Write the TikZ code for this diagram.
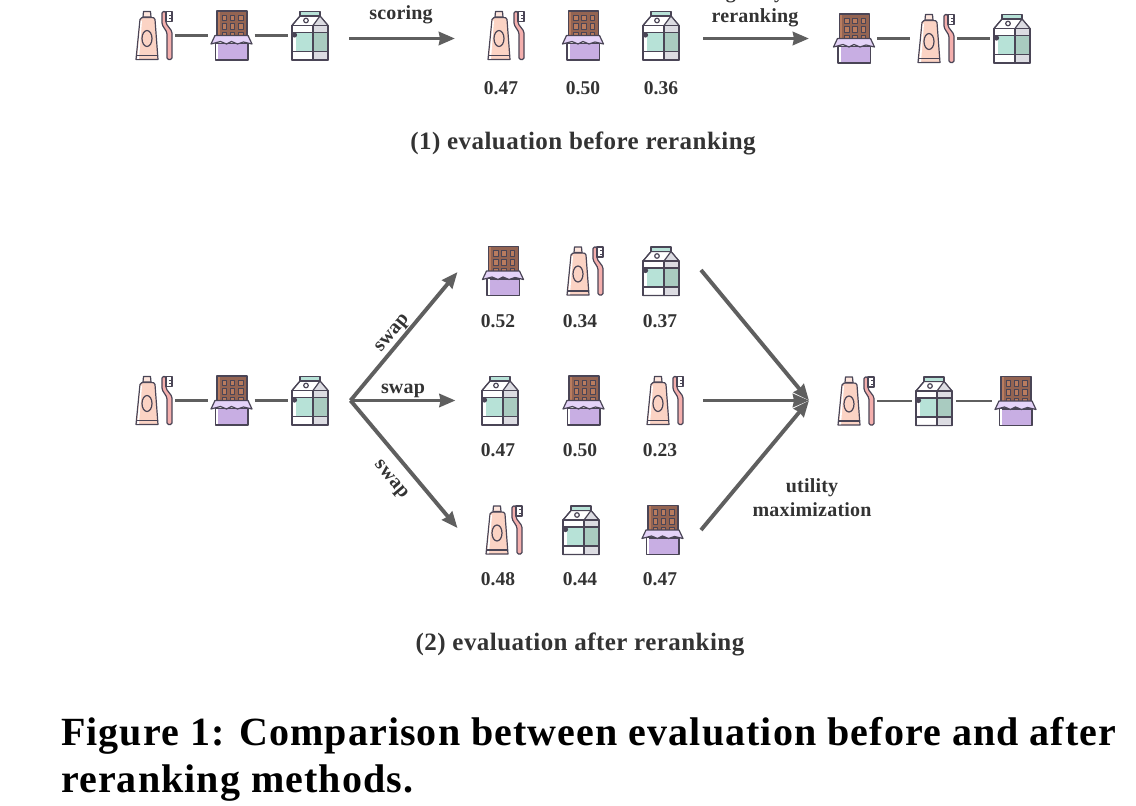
\documentclass[tikz,border=0pt]{standalone}
\usepackage{fontspec}
\setmainfont{Liberation Serif}
\newfontfamily\lblfont[LetterSpace=1]{Liberation Serif}
\newfontfamily\titlefont[LetterSpace=1.8]{Liberation Serif}
\newfontfamily\captfont[LetterSpace=2.7]{Liberation Serif}
\usetikzlibrary{arrows.meta,positioning}

\definecolor{inkc}{HTML}{4A4556}
\definecolor{arrowc}{HTML}{5F5F5F}
\definecolor{textc}{HTML}{333333}
\definecolor{tubec}{HTML}{FBD3C4}
\definecolor{brushc}{HTML}{F4AFAD}
\definecolor{chococ}{HTML}{946452}
\definecolor{squarec}{HTML}{B97C5F}
\definecolor{wrapc}{HTML}{C8AEE3}
\definecolor{flapc}{HTML}{E4D3F8}
\definecolor{milkc}{HTML}{B7E2D7}
\definecolor{shadec}{HTML}{A9CBC0}
\definecolor{greyc}{HTML}{DCDCE2}

\tikzset{
    ink/.style={draw=inkc, line width=1.2pt, line join=round},
    tube/.pic={
        \begin{scope}[x=1pt, y=1pt]
        \path [ink, fill=tubec] (-18,-24) -- (-14,16) .. controls (-14,18) and (-11,18) .. (-10,18) -- (-3,18) .. controls (-1,18) and (1,18) .. (1,16) -- (4,-24) -- cycle;
        \fill [white] (-16.8,-23.4) -- (-13.3,15) -- (-12,15) -- (-15,-23.4) -- cycle;
        \path [ink, fill=tubec!60] (-11,18.5) -- (-10.5,24) -- (-3.5,24) -- (-3,18.5) -- cycle;
        \draw [ink] (-18,-20) -- (4,-20);
        \path [ink, fill=tubec] (-7,-3) ellipse [x radius=5, y radius=8];
        \path [ink, fill=brushc, rounded corners=1.5pt] (13,-24) -- (13,3) -- (8,11) -- (8,24) -- (12,24) -- (12,12) -- (18,4) -- (18,-24) -- cycle;
        \path [ink, fill=white] (12,24) -- (18,24) -- (18,14) -- (12,14) -- cycle;
        \draw [ink, line width=0.9pt] (15,20.5) -- (18,20.5) (15,17) -- (18,17);
        \end{scope}
    },
    choco/.pic={
        \begin{scope}[x=1pt, y=1pt]
        \path [ink, fill=chococ] (-14.5,-2) -- (-14.5,24.5) -- (15.5,24.5) -- (15.5,-2) -- cycle;
        \fill [squarec] (-13.8,-2) rectangle (-12,23.8);
        \path [ink, line width=1pt, fill=squarec] (-9.5,15) rectangle (-5,20.5) (-1.5,15) rectangle (3,20.5) (7,15) rectangle (11.5,20.5);
        \path [ink, line width=1pt, fill=squarec] (-9.5,6) rectangle (-5,12) (-1.5,6) rectangle (3,12) (7,6) rectangle (11.5,12);
        \path [ink, line width=1pt, fill=squarec] (-9.5,-2) rectangle (-5,3) (-1.5,-2) rectangle (3,3) (7,-2) rectangle (11.5,3);
        \path [ink, fill=wrapc] (-16,-8) -- (-16,-24.5) -- (16.5,-24.5) -- (16.5,-8) -- cycle;
        \fill [white] (-15.3,-8) rectangle (-13.5,-23.8);
        \path [ink, fill=flapc] (-16.5,0) -- (16.5,0) -- (20.5,-8.5) -- (12,-6.5) -- (6,-8.5) -- (0,-6) -- (-5,-8.5) -- (-11,-6) -- (-20.5,-8.5) -- cycle;
        \end{scope}
    },
    milk/.pic={
        \begin{scope}[x=1pt, y=1pt]
        \path [ink, fill=white] (-18,10) -- (-10,19.5) -- (10,19.5) -- (18,10) -- (18,-24.5) -- (-18,-24.5) -- cycle;
        \fill [greyc] (3,10) -- (10,19.5) -- (18,10) -- (18,-24) -- (3,-24) -- cycle;
        \fill [milkc] (-14,3) rectangle (3,-16);
        \fill [shadec] (3,3) rectangle (18,-16);
        \path [ink, fill=milkc] (-10,19.5) -- (-10,24) -- (10,24) -- (10,19.5) -- cycle;
        \draw [ink] (-18,-24.5) rectangle (18,10);
        \draw [ink] (3,10) -- (10,19.5) (-18,10) -- (-10,19.5) (10,19.5) -- (18,10);
        \draw [ink] (3,10) -- (3,-24.5);
        \draw [ink] (-18,3) -- (18,3) (-18,-16) -- (18,-16);
        \path [ink, fill=white] (-4,15) circle (2.3pt);
        \fill [inkc] (-15.5,0.5) circle (2.6pt);
        \end{scope}
    },
}
\newcommand{\placeicon}[4]{\node [#1box] (#2) at (#3,#4) {}; \pic at (#2) {#1};}

\begin{document}
\begin{tikzpicture}[x=1pt, y=-1pt]
    \tikzstyle{tubebox} = [inner sep=0pt, minimum width=42pt, minimum height=48pt]
    \tikzstyle{chocobox} = [inner sep=0pt, minimum width=46pt, minimum height=48pt]
    \tikzstyle{milkbox} = [inner sep=0pt, minimum width=44pt, minimum height=48pt]
    \tikzstyle{link} = [draw=arrowc, line width=2.7pt]
    \tikzstyle{arr} = [draw=arrowc, line width=3.9pt, -{Stealth[length=16pt, width=13pt, inset=1pt]}]
    \tikzstyle{score} = [font=\fontsize{19.5}{22}\selectfont\bfseries, text=textc, inner sep=0pt]
    \tikzstyle{lbl} = [font=\lblfont\fontsize{20}{24}\selectfont\bfseries, text=textc, align=center, inner sep=0pt]
    \tikzstyle{title} = [font=\titlefont\fontsize{25}{28}\selectfont\bfseries, text=textc, inner sep=0pt]
    \tikzstyle{capt} = [font=\captfont\fontsize{40}{47}\selectfont\bfseries, text=black, inner sep=0pt, anchor=base west]

    \useasboundingbox (0,0) rectangle (1136,806);
    \clip (0,0) rectangle (1136,806);

    \placeicon{tube}{t1}{154}{35.5}
    \placeicon{choco}{c1}{231.5}{35.5}
    \placeicon{milk}{m1}{310}{35.5}
    \draw [link] (t1) -- (c1);
    \draw [link] (c1) -- (m1);
    \placeicon{tube}{t2}{506}{35.5}
    \placeicon{choco}{c2}{583}{35.5}
    \placeicon{milk}{m2}{661}{35.5}
    \placeicon{choco}{c3}{854}{38.5}
    \placeicon{tube}{t3}{936}{38.5}
    \placeicon{milk}{m3}{1012}{38.5}
    \draw [link, shorten >=5pt] (c3) -- (t3);
    \draw [link] (t3) -- (m3);

    \coordinate (s1) at (349,38.5);
    \coordinate (s2) at (455,38.5);
    \coordinate (g1) at (703,38.5);
    \coordinate (g2) at (809,38.5);
    \draw [arr] (s1) -- (s2);
    \draw [arr] (g1) -- (g2);
    \node [lbl] (scoring) at (401,15) {scoring};
    \node [lbl] (greedy) at (755,5.5) {greedy\\reranking};

    \node [score] (v1) at (501,88) {0.47};
    \node [score] (v2) at (583,88) {0.50};
    \node [score] (v3) at (661,88) {0.36};
    \node [title] (before) at (583,143) {(1) evaluation before reranking};

    \placeicon{tube}{t4}{154}{400.5}
    \placeicon{choco}{c4}{231.5}{400.5}
    \placeicon{milk}{m4}{310}{400.5}
    \draw [link] (t4) -- (c4);
    \draw [link] (c4) -- (m4);

    \placeicon{choco}{c5}{503}{271}
    \placeicon{tube}{t5}{585}{271}
    \placeicon{milk}{m5}{661}{271}
    \node [score] (v4) at (498,321) {0.52};
    \node [score] (v5) at (580,321) {0.34};
    \node [score] (v6) at (660,321) {0.37};

    \placeicon{milk}{m6}{500}{400.5}
    \placeicon{choco}{c6}{583.5}{400.5}
    \placeicon{tube}{t6}{665}{400.5}
    \node [score] (v7) at (498,450) {0.47};
    \node [score] (v8) at (580,450) {0.50};
    \node [score] (v9) at (660,450) {0.23};

    \placeicon{tube}{t7}{504}{530}
    \placeicon{milk}{m7}{581}{530}
    \placeicon{choco}{c7}{662.5}{530}
    \node [score] (v10) at (498,579.5) {0.48};
    \node [score] (v11) at (580,579.5) {0.44};
    \node [score] (v12) at (660,579.5) {0.47};

    \coordinate (src) at (350.5,400.5);
    \coordinate (up) at (457.5,272);
    \coordinate (mid) at (455.5,400.5);
    \coordinate (down) at (457.5,528);
    \draw [arr] (src) -- node [lbl, pos=0.47, sloped, above=1pt] (sw1) {swap} (up);
    \draw [arr] (src) -- node [lbl, midway, above=1pt] (sw2) {swap} (mid);
    \draw [arr] (src) -- node [lbl, pos=0.52, sloped, below=12pt] (sw3) {swap} (down);

    \coordinate (tgt) at (809,400.5);
    \coordinate (fa) at (701,270);
    \coordinate (fb) at (703,400.5);
    \coordinate (fc) at (701,530);
    \draw [arr] (fa) -- (tgt);
    \draw [arr] (fb) -- (tgt);
    \draw [arr] (fc) -- (tgt);
    \node [lbl] (util) at (812,497.5) {utility\\maximization};

    \placeicon{tube}{t8}{856}{401}
    \placeicon{milk}{m8}{934}{401}
    \placeicon{choco}{c8}{1015.5}{401}
    \draw [link] (t8) -- (m8);
    \draw [link] (m8) -- (c8);

    \node [title] (after) at (580,644) {(2) evaluation after reranking};

    \node [capt] (cap1) at (61,745) {Figure 1: Comparison between evaluation before and after};
    \node [capt] (cap2) at (61,792) {reranking methods.};
\end{tikzpicture}
\end{document}
